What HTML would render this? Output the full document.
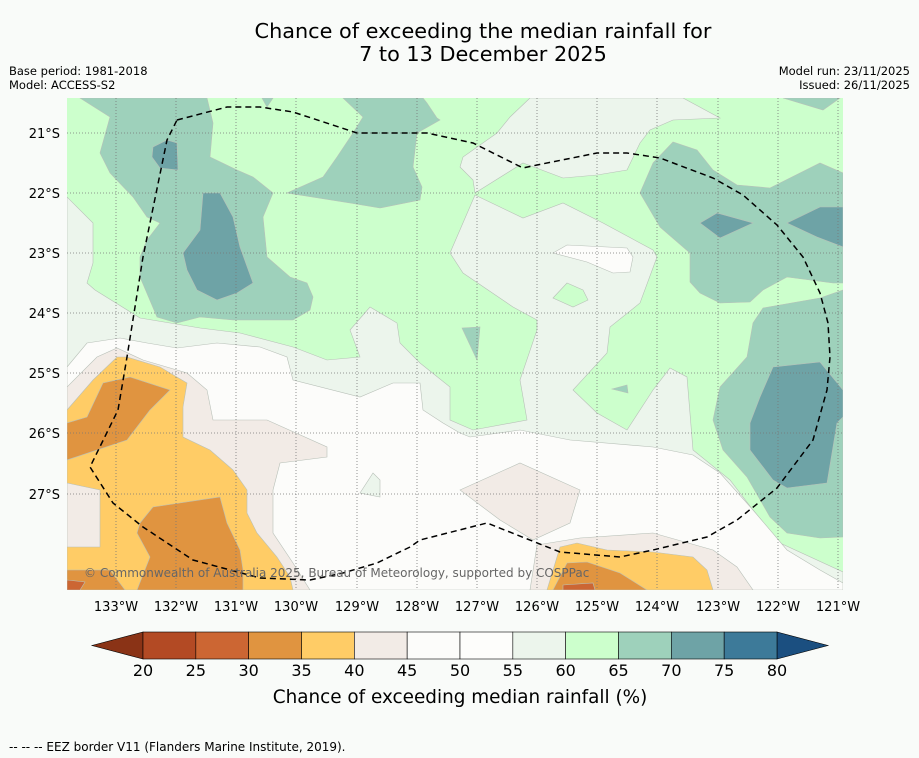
<!DOCTYPE html>
<html><head><meta charset="utf-8">
<style>
body{margin:0;background:#f9fbf9;font-family:"DejaVu Sans","Liberation Sans",sans-serif;}
svg{display:block}
</style></head>
<body>
<svg width="919" height="758" viewBox="0 0 919 758">
<rect width="919" height="758" fill="#f9fbf9"/>
<text x="483" y="38" font-size="20.8" text-anchor="middle" fill="#000">Chance of exceeding the median rainfall for</text>
<text x="483" y="61" font-size="20.8" text-anchor="middle" fill="#000">7 to 13 December 2025</text>
<text x="9" y="75" font-size="11.5">Base period: 1981-2018</text>
<text x="9" y="89" font-size="11.5">Model: ACCESS-S2</text>
<text x="910" y="75" font-size="11.5" text-anchor="end">Model run: 23/11/2025</text>
<text x="910" y="89" font-size="11.5" text-anchor="end">Issued: 26/11/2025</text>

<defs><clipPath id="mc"><rect x="67" y="98" width="776" height="492"/></clipPath></defs>
<g clip-path="url(#mc)" stroke="#b8c0b8" stroke-width="0.6">
<rect x="67" y="98" width="776" height="492" fill="#ccffcc" stroke="none"/>
<path fill="#ecf5ec" d="M530,98 L683,98 L720,118 L673,120 L650,130 L640,143 L627,170 L597,175 L563,178 L523,163 L475,193 L473,180 L460,167 L463,157 L497,133 L510,117 Z"/>
<path fill="#ecf5ec" d="M475,195 L523,218 L563,203 L603,223 L653,250 L657,257 L640,303 L610,327 L607,353 L573,390 L597,413 L627,430 L653,390 L670,368 L687,377 L693,450 L730,480 L753,510 L780,543 L843,572 L843,590 L67,590 L67,197 L93,223 L93,263 L87,283 L95,290 L140,318 L200,328 L240,333 L293,347 L327,360 L360,357 L350,330 L370,307 L397,323 L400,343 L420,363 L450,387 L450,420 L473,430 L527,420 L520,380 L537,330 L537,320 L513,307 L463,273 L450,253 Z"/>
<path fill="#fcfcfa" d="M67,367 L87,343 L120,338 L147,343 L177,348 L217,343 L260,347 L287,357 L293,380 L360,397 L393,383 L420,383 L423,410 L443,423 L460,433 L470,437 L520,430 L570,440 L653,447 L693,455 L720,473 L753,510 L787,550 L820,570 L843,583 L843,590 L67,590 Z"/>
<path fill="#fcfcfa" d="M553,253 L567,245 L627,248 L633,257 L630,272 L613,273 L587,262 Z"/>
<path fill="#ccffcc" d="M553,298 L567,283 L583,290 L588,300 L573,307 Z"/>
<path fill="#ecf5ec" d="M360,493 L373,473 L380,480 L380,497 Z"/>
<path fill="#f2ebe6" d="M67,387 L97,357 L117,348 L143,360 L187,373 L207,390 L213,420 L267,420 L327,447 L327,457 L280,463 L273,490 L273,533 L293,563 L310,590 L67,590 Z"/>
<path fill="#f2ebe6" d="M460,490 L520,463 L580,490 L570,523 L533,540 L500,520 Z"/>
<path fill="#f2ebe6" d="M537,545 L580,538 L653,533 L713,550 L737,567 L753,590 L530,590 Z"/>
<path fill="#ffcc66" d="M67,410 L93,380 L117,357 L127,357 L160,367 L187,383 L183,407 L183,437 L210,450 L233,470 L247,490 L247,513 L257,533 L277,557 L290,577 L293,590 L67,590 Z"/>
<path fill="#f2ebe6" d="M67,483 L100,490 L100,547 L67,547 Z"/>
<path fill="#ffcc66" d="M560,547 L577,543 L607,550 L653,552 L693,557 L707,570 L713,590 L547,590 Z"/>
<path fill="#e09440" d="M67,423 L87,417 L103,383 L130,377 L170,390 L150,410 L127,440 L67,460 Z"/>
<path fill="#e09440" d="M140,523 L153,507 L220,497 L227,523 L240,550 L243,570 L243,590 L137,590 L150,557 L137,533 Z"/>
<path fill="#e09440" d="M67,570 L110,570 L125,590 L67,590 Z"/>
<path fill="#e09440" d="M567,563 L587,562 L620,573 L647,590 L553,590 Z"/>
<path fill="#cc6633" d="M67,580 L85,582 L80,590 L67,590 Z"/>
<path fill="#cc6633" d="M563,585 L593,583 L595,590 L563,590 Z"/>
<path fill="#9ed1bb" d="M80,98 L207,98 L213,123 L210,157 L237,170 L253,177 L273,193 L263,217 L267,257 L290,277 L307,283 L313,297 L310,310 L293,320 L233,320 L200,317 L177,323 L157,317 L140,277 L140,257 L147,240 L160,223 L147,217 L133,197 L110,173 L100,153 L110,117 Z"/>
<path fill="#9ed1bb" d="M262,98 L273,98 L267,107 Z"/>
<path fill="#9ed1bb" d="M343,98 L423,98 L427,103 L437,118 L440,120 L417,133 L413,167 L422,187 L420,200 L380,208 L350,203 L287,193 L323,177 L337,157 L353,133 L363,117 Z"/>
<path fill="#9ed1bb" d="M783,98 L823,110 L840,98 Z"/>
<path fill="#9ed1bb" d="M653,163 L673,142 L697,150 L713,170 L737,185 L770,188 L820,163 L843,173 L843,283 L833,283 L787,277 L763,290 L750,302 L720,303 L700,293 L690,282 L690,253 L660,227 L640,193 Z"/>
<path fill="#9ed1bb" d="M843,290 L820,298 L763,308 L753,323 L747,357 L720,387 L713,420 L723,450 L747,477 L770,517 L787,533 L820,538 L843,537 Z"/>
<path fill="#9ed1bb" d="M462,328 L480,327 L477,360 Z"/>
<path fill="#9ed1bb" d="M612,389 L627,385 L628,393 Z"/>
<path fill="#6ea3a6" d="M152,157 L153,147 L167,140 L177,143 L178,170 L160,168 Z"/>
<path fill="#6ea3a6" d="M203,193 L220,193 L233,217 L240,247 L253,283 L237,293 L217,300 L197,290 L187,270 L183,253 L200,230 Z"/>
<path fill="#6ea3a6" d="M700,223 L717,213 L753,223 L720,238 Z"/>
<path fill="#6ea3a6" d="M787,223 L820,207 L843,207 L843,247 L817,237 Z"/>
<path fill="#6ea3a6" d="M773,367 L820,362 L843,390 L843,417 L837,423 L827,483 L787,488 L773,480 L750,450 L750,423 L760,397 Z"/>
</g>
<g stroke="#777" stroke-width="0.8" stroke-dasharray="1,2" fill="none">
<path d="M116,98V590M176,98V590M236,98V590M296,98V590M357,98V590M417,98V590M477,98V590M537,98V590M597,98V590M657,98V590M718,98V590M778,98V590M838,98V590"/>
<path d="M67,133H843M67,193H843M67,253H843M67,313H843M67,373H843M67,433H843M67,494H843"/>
</g>
<path fill="none" stroke="#000" stroke-width="1.5" stroke-dasharray="6,4" d="M177,120 L227,107 L260,107 L293,112 L357,133 L393,133 L427,133 L473,143 L523,168 L537,165 L597,153 L627,153 L660,158 L713,178 L743,195 L777,225 L803,257 L820,293 L828,323 L830,357 L827,390 L813,440 L777,488 L737,520 L707,537 L653,550 L620,557 L560,552 L487,523 L420,540 L410,547 L377,563 L343,573 L310,580 L260,578 L193,560 L143,527 L113,503 L90,467 L118,410 L127,357 L143,257 L167,140 Z"/>
<text x="84" y="577" font-size="12" fill="#666">© Commonwealth of Australia 2025, Bureau of Meteorology, supported by COSPPac</text>
<g font-size="13" fill="#000" text-anchor="end">
<text x="60" y="138">21°S</text><text x="60" y="198">22°S</text><text x="60" y="258">23°S</text><text x="60" y="318">24°S</text><text x="60" y="378">25°S</text><text x="60" y="438">26°S</text><text x="60" y="499">27°S</text>
</g>
<g font-size="13" fill="#000" text-anchor="middle">
<text x="116" y="611">133°W</text><text x="176" y="611">132°W</text><text x="236" y="611">131°W</text><text x="296" y="611">130°W</text><text x="357" y="611">129°W</text><text x="417" y="611">128°W</text><text x="477" y="611">127°W</text><text x="537" y="611">126°W</text><text x="597" y="611">125°W</text><text x="657" y="611">124°W</text><text x="718" y="611">123°W</text><text x="778" y="611">122°W</text><text x="838" y="611">121°W</text>
</g>
<g id="cbar"></g>
<text x="460" y="703" font-size="18.4" text-anchor="middle">Chance of exceeding median rainfall (%)</text>
<text x="9" y="751" font-size="12">--  --  -- EEZ border V11 (Flanders Marine Institute, 2019).</text>
</svg>
<script>
const levels=[20,25,30,35,40,45,50,55,60,65,70,75,80];
const binColors=['#b34a24','#cc6633','#e09440','#ffcc66','#f2ebe6','#fcfcfa','#fdfdfb','#ecf5ec','#ccffcc','#9ed1bb','#6ea3a6','#3d7a99'];
const underColor='#8a3316', overColor='#1b4f80';
const NS='http://www.w3.org/2000/svg';
const g=document.getElementById('cbar');
const x0=143,x1=777,y0=632,y1=659;
const sx=v=>x0+(v-levels[0])/(levels[levels.length-1]-levels[0])*(x1-x0);
function mk(t,a){const e=document.createElementNS(NS,t);for(const k in a)e.setAttribute(k,a[k]);g.appendChild(e);return e;}
const lt=mk('polygon',{points:`${x0},${y0} ${x0},${y1} 92,${(y0+y1)/2}`,fill:underColor,stroke:'#000','stroke-width':0.6});


const rt=mk('polygon',{points:`${x1},${y0} ${x1},${y1} 828,${(y0+y1)/2}`,fill:overColor,stroke:'#000','stroke-width':0.6});


for(let i=0;i<binColors.length;i++){
  const r=mk('rect',{x:sx(levels[i]),y:y0,width:sx(levels[i+1])-sx(levels[i]),height:y1-y0,fill:binColors[i],stroke:'#000','stroke-width':0.6});
  
  
}
for(const v of levels){
  const t=mk('text',{x:sx(v),y:676,'font-size':16,'text-anchor':'middle'});
  t.textContent=v;
  
  
}
</script>
</body></html>
